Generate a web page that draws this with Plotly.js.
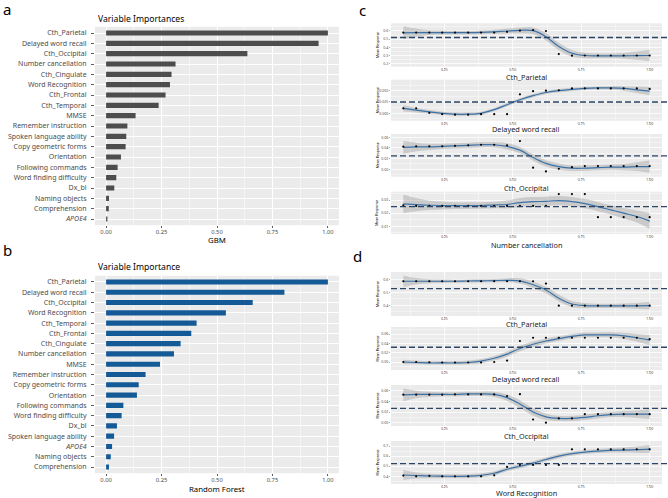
<!DOCTYPE html>
<html>
<head>
<meta charset="utf-8">
<script src="https://cdn.plot.ly/plotly-3.0.1.min.js"></script>
<style>
  html, body { margin: 0; padding: 0; background: #fff; }
  #fig { width: 668px; height: 498px; }
</style>
</head>
<body>
<div id="fig"></div>
<script>
// ---- panel a: GBM variable importance ----
var gbmVars = ['Cth_Parietal', 'Delayed word recall', 'Cth_Occipital', 'Number cancellation',
  'Cth_Cingulate', 'Word Recognition', 'Cth_Frontal', 'Cth_Temporal', 'MMSE',
  'Remember instruction', 'Spoken language ability', 'Copy geometric forms', 'Orientation',
  'Following commands', 'Word finding difficulty', 'Dx_bl', 'Naming objects', 'Comprehension',
  '<i>APOE4</i>'];
var gbmVals = [1.00, 0.958, 0.637, 0.313, 0.295, 0.288, 0.268, 0.237, 0.133, 0.096, 0.091,
  0.088, 0.067, 0.052, 0.046, 0.037, 0.013, 0.012, 0.006];

// ---- panel b: random forest variable importance ----
var rfVars = ['Cth_Parietal', 'Delayed word recall', 'Cth_Occipital', 'Word Recognition',
  'Cth_Temporal', 'Cth_Frontal', 'Cth_Cingulate', 'Number cancellation', 'MMSE',
  'Remember instruction', 'Copy geometric forms', 'Orientation', 'Following commands',
  'Word finding difficulty', 'Dx_bl', 'Spoken language ability', '<i>APOE4</i>',
  'Naming objects', 'Comprehension'];
var rfVals = [1.00, 0.804, 0.661, 0.540, 0.408, 0.384, 0.336, 0.306, 0.243, 0.178, 0.147,
  0.139, 0.078, 0.070, 0.049, 0.036, 0.027, 0.021, 0.013];

// ---- panels c, d: partial dependence (points, loess fit, band half-width, mean line) ----
var pdX = [0.100, 0.147, 0.195, 0.242, 0.289, 0.337, 0.384, 0.432, 0.479, 0.526,
  0.574, 0.621, 0.668, 0.716, 0.763, 0.811, 0.858, 0.905, 0.953, 1.000];

var cParPts = [0.58, 0.58, 0.58, 0.58, 0.58, 0.58, 0.58, 0.58, 0.59, 0.605, 0.612, 0.60, 0.318, 0.298, 0.30, 0.30, 0.30, 0.30, 0.30, 0.30];
var cParFit = [0.578, 0.579, 0.58, 0.58, 0.58, 0.58, 0.583, 0.59, 0.60, 0.608, 0.604, 0.53, 0.41, 0.327, 0.30, 0.295, 0.295, 0.296, 0.298, 0.30];
var cParSe = [0.08, 0.05, 0.03, 0.025, 0.022, 0.022, 0.022, 0.025, 0.03, 0.035, 0.04, 0.045, 0.045, 0.04, 0.035, 0.03, 0.03, 0.035, 0.05, 0.07];
var cParRef = 0.52;

var cDwrPts = [0.011, 0.011, 0.001, -0.002, -0.003, -0.003, -0.002, -0.002, -0.002, 0.042, 0.049, 0.050, 0.051, 0.055, 0.055, 0.055, 0.055, 0.055, 0.055, 0.054];
var cDwrFit = [0.011, 0.007, 0.003, 0.000, -0.002, -0.002, 0.000, 0.008, 0.019, 0.030, 0.039, 0.046, 0.050, 0.053, 0.055, 0.056, 0.056, 0.055, 0.052, 0.049];
var cDwrSe = [0.007, 0.005, 0.004, 0.0035, 0.0035, 0.0035, 0.0035, 0.0035, 0.0035, 0.0035, 0.0035, 0.0035, 0.0035, 0.0035, 0.0035, 0.0035, 0.004, 0.005, 0.007, 0.009];
var cDwrRef = 0.025;

var cOccPts = [0.0425, 0.043, 0.043, 0.043, 0.044, 0.045, 0.046, 0.046, 0.045, 0.053, 0.003, -0.004, 0.001, 0.004, 0.006, 0.006, 0.006, 0.006, 0.006, 0.006];
var cOccFit = [0.041, 0.042, 0.042, 0.043, 0.044, 0.045, 0.046, 0.046, 0.043, 0.036, 0.022, 0.011, 0.005, 0.002, 0.002, 0.003, 0.004, 0.004, 0.005, 0.005];
var cOccSe = [0.012, 0.008, 0.006, 0.005, 0.005, 0.005, 0.005, 0.005, 0.006, 0.006, 0.006, 0.006, 0.006, 0.005, 0.005, 0.005, 0.005, 0.006, 0.008, 0.012];
var cOccRef = 0.025;

var cNcPts = [0.026, 0.0255, 0.0255, 0.0255, 0.0255, 0.0255, 0.0255, 0.0255, 0.0255, 0.0255, 0.0255, 0.0255, 0.0345, 0.0345, 0.0345, 0.017, 0.017, 0.017, 0.017, 0.017];
var cNcFit = [0.027, 0.0265, 0.026, 0.0258, 0.0257, 0.0257, 0.0258, 0.0262, 0.0266, 0.028, 0.0287, 0.029, 0.0295, 0.0287, 0.0272, 0.025, 0.0225, 0.020, 0.0175, 0.014];
var cNcSe = [0.007, 0.005, 0.0035, 0.003, 0.0025, 0.0025, 0.0025, 0.0025, 0.003, 0.0035, 0.0035, 0.0035, 0.0035, 0.0035, 0.0035, 0.0035, 0.0035, 0.004, 0.0045, 0.006];
var cNcRef = 0.0249;

var dParPts = [0.585, 0.585, 0.585, 0.585, 0.585, 0.585, 0.585, 0.585, 0.585, 0.585, 0.585, 0.567, 0.397, 0.397, 0.397, 0.397, 0.397, 0.397, 0.397, 0.397];
var dParFit = [0.585, 0.585, 0.585, 0.585, 0.585, 0.587, 0.588, 0.59, 0.592, 0.588, 0.558, 0.518, 0.455, 0.41, 0.398, 0.396, 0.396, 0.396, 0.396, 0.397];
var dParSe = [0.045, 0.025, 0.015, 0.013, 0.012, 0.012, 0.012, 0.013, 0.015, 0.02, 0.024, 0.026, 0.026, 0.024, 0.02, 0.017, 0.016, 0.018, 0.022, 0.03];
var dParRef = 0.528;

var dDwrPts = [0.000, 0.000, -0.0005, -0.001, -0.001, -0.001, -0.001, 0.000, 0.003, 0.045, 0.052, 0.052, 0.052, 0.052, 0.052, 0.052, 0.052, 0.052, 0.052, 0.049];
var dDwrFit = [0.000, -0.001, -0.002, -0.002, -0.002, -0.001, 0.002, 0.008, 0.017, 0.029, 0.038, 0.045, 0.050, 0.055, 0.058, 0.058, 0.058, 0.056, 0.052, 0.047];
var dDwrSe = [0.005, 0.004, 0.0035, 0.0035, 0.0035, 0.004, 0.0045, 0.005, 0.0055, 0.0057, 0.0057, 0.0055, 0.005, 0.005, 0.005, 0.005, 0.0055, 0.0065, 0.008, 0.011];
var dDwrRef = 0.0316;

var dOccPts = [0.0525, 0.0525, 0.0525, 0.0525, 0.053, 0.053, 0.053, 0.053, 0.050, 0.0535, 0.006, 0.000, 0.008, 0.008, 0.016, 0.016, 0.016, 0.016, 0.016, 0.016];
var dOccFit = [0.052, 0.053, 0.053, 0.053, 0.053, 0.054, 0.054, 0.053, 0.047, 0.035, 0.020, 0.011, 0.008, 0.008, 0.010, 0.013, 0.015, 0.016, 0.016, 0.016];
var dOccSe = [0.012, 0.007, 0.005, 0.004, 0.004, 0.004, 0.004, 0.005, 0.006, 0.007, 0.007, 0.006, 0.005, 0.005, 0.005, 0.005, 0.005, 0.006, 0.007, 0.009];
var dOccRef = 0.027;

var dWrPts = [0.407, 0.40, 0.405, 0.40, 0.40, 0.40, 0.40, 0.41, 0.493, 0.513, 0.513, 0.513, 0.513, 0.667, 0.667, 0.667, 0.667, 0.667, 0.667, 0.667];
var dWrFit = [0.413, 0.408, 0.403, 0.401, 0.400, 0.401, 0.41, 0.43, 0.47, 0.50, 0.53, 0.566, 0.60, 0.624, 0.64, 0.65, 0.657, 0.66, 0.664, 0.67];
var dWrSe = [0.05, 0.03, 0.022, 0.02, 0.02, 0.02, 0.02, 0.02, 0.02, 0.02, 0.02, 0.02, 0.02, 0.02, 0.02, 0.02, 0.022, 0.025, 0.03, 0.04];
var dWrRef = 0.526;

// ---- layout helpers (pixel -> paper) ----
var W = 668, H = 498;
function fx(p) { return p / W; }
function fy(p) { return 1 - p / H; }

var FONT = 'Noto Sans, Open Sans, sans-serif';
var data = [];
var layout = {
  width: W, height: H,
  margin: { l: 0, r: 0, t: 0, b: 0 },
  showlegend: false,
  paper_bgcolor: '#ffffff',
  plot_bgcolor: '#ebebeb',
  font: { family: FONT, color: '#4d4d4d' },
  annotations: [],
  shapes: []
};
var axisN = 0;

function note(text, x, y, size, opts) {
  var a = { text: text, x: fx(x), y: fy(y), xref: 'paper', yref: 'paper', showarrow: false,
    xanchor: 'center', yanchor: 'middle', font: { size: size, color: '#000', family: FONT } };
  for (var k in (opts || {})) a[k] = opts[k];
  layout.annotations.push(a);
}

function barPanel(vars, vals, color, top, bottom, title, titleY, xtitle, xtitleY) {
  axisN++;
  var xa = axisN === 1 ? 'x' : 'x' + axisN, ya = axisN === 1 ? 'y' : 'y' + axisN;
  data.push({
    type: 'bar', orientation: 'h', x: vals, y: vars, xaxis: xa, yaxis: ya,
    width: 0.5, marker: { color: color }, hoverinfo: 'x+y'
  });
  layout['xaxis' + (axisN === 1 ? '' : axisN)] = {
    domain: [fx(95), fx(339)], anchor: ya, range: [-0.05, 1.05],
    tickvals: [0, 0.25, 0.5, 0.75, 1], ticktext: ['0.00', '0.25', '0.50', '0.75', '1.00'],
    showgrid: true, gridcolor: '#ffffff', gridwidth: 1, zeroline: false,
    minor: { tickvals: [0.125, 0.375, 0.625, 0.875], showgrid: true, gridcolor: '#ffffff', gridwidth: 0.5 },
    ticks: 'outside', ticklen: 2, tickcolor: '#333', tickwidth: 0.8,
    ticklabelstandoff: -1,
    tickfont: { size: 5.8, color: '#4d4d4d' }, showline: false
  };
  layout['yaxis' + (axisN === 1 ? '' : axisN)] = {
    domain: [fy(bottom), fy(top)], anchor: xa, type: 'category',
    categoryorder: 'array', categoryarray: vars, range: [vars.length - 0.4, -0.6],
    showgrid: true, gridcolor: '#ffffff', gridwidth: 1, zeroline: false,
    ticks: 'outside', ticklen: 3, tickcolor: '#333', tickwidth: 0.8,
    ticklabelstandoff: 3,
    tickfont: { size: 7, color: '#4d4d4d' }, showline: false
  };
  note(title, 96, titleY, 8.6, { xanchor: 'left' });
  note(xtitle, 217, xtitleY, 7.8);
}

function pdPanel(p) {
  axisN++;
  var xa = 'x' + axisN, ya = 'y' + axisN;
  var upper = p.fit.map(function (v, i) { return v + p.se[i]; });
  var lower = p.fit.map(function (v, i) { return v - p.se[i]; });
  data.push({ x: pdX, y: upper, xaxis: xa, yaxis: ya, mode: 'lines',
    line: { width: 0, shape: 'spline' }, hoverinfo: 'skip' });
  data.push({ x: pdX, y: lower, xaxis: xa, yaxis: ya, mode: 'lines', fill: 'tonexty',
    fillcolor: 'rgba(153,153,153,0.4)', line: { width: 0, shape: 'spline' }, hoverinfo: 'skip' });
  data.push({ x: pdX, y: p.fit, xaxis: xa, yaxis: ya, mode: 'lines',
    line: { color: '#3b72a8', width: 1.2, shape: 'spline' } });
  data.push({ x: pdX, y: p.pts, xaxis: xa, yaxis: ya, mode: 'markers',
    marker: { color: '#000', size: 2.2 } });
  layout['xaxis' + axisN] = {
    domain: [fx(391), fx(662)], anchor: ya, range: [0.055, 1.045],
    tickvals: [0.25, 0.5, 0.75, 1], ticktext: ['0.25', '0.50', '0.75', '1.00'],
    showgrid: true, gridcolor: '#ffffff', gridwidth: 0.8, zeroline: false,
    minor: { tickvals: [0.125, 0.375, 0.625, 0.875], showgrid: true, gridcolor: '#ffffff', gridwidth: 0.4 },
    ticks: 'outside', ticklen: 1, tickcolor: '#555', tickwidth: 0.5,
    ticklabelstandoff: -2,
    tickfont: { size: 3.5, color: '#4d4d4d' }
  };
  layout['yaxis' + axisN] = {
    domain: [fy(p.bottom), fy(p.top)], anchor: xa, range: p.range,
    tick0: 0, dtick: p.dtick, tickformat: p.fmt,
    showgrid: true, gridcolor: '#ffffff', gridwidth: 0.8, zeroline: false,
    minor: { tick0: 0, dtick: p.dtick / 2, showgrid: true, gridcolor: '#ffffff', gridwidth: 0.4 },
    ticks: 'outside', ticklen: 1, tickcolor: '#555', tickwidth: 0.5,
    tickfont: { size: 3.5, color: '#4d4d4d' }
  };
  layout.shapes.push({ type: 'line', xref: 'paper', yref: ya, x0: fx(391), x1: 1,
    y0: p.ref, y1: p.ref, line: { color: '#2c4466', width: 1.3, dash: '6px,3px' } });
  note(p.name, 526, p.label, 7.3, { font: { size: 7.3, color: '#1a1a1a', family: FONT } });
  note('Mean Response', 377, (p.top + p.bottom) / 2, 3.5,
    { textangle: -90, font: { size: 3.5, color: '#000', family: FONT } });
}

barPanel(gbmVars, gbmVals, '#4d4d4d', 26.8, 225.2, 'Variable Importances', 19, 'GBM', 240);
barPanel(rfVars, rfVals, '#135a96', 275.8, 473.2, 'Variable Importance', 267, 'Random Forest', 488.5);

var pdPanels = [
  { name: 'Cth_Parietal', pts: cParPts, fit: cParFit, se: cParSe, ref: cParRef,
    top: 23.3, bottom: 66.7, range: [0.163, 0.694], dtick: 0.1, fmt: '.1f', label: 76.5 },
  { name: 'Delayed word recall', pts: cDwrPts, fit: cDwrFit, se: cDwrSe, ref: cDwrRef,
    top: 79.7, bottom: 120.7, range: [-0.0164, 0.0743], dtick: 0.025, fmt: '.3f', label: 128.5 },
  { name: 'Cth_Occipital', pts: cOccPts, fit: cOccFit, se: cOccSe, ref: cOccRef,
    top: 134, bottom: 176.7, range: [-0.0139, 0.0662], dtick: 0.02, fmt: '.2f', label: 188 },
  { name: 'Number cancellation', pts: cNcPts, fit: cNcFit, se: cNcSe, ref: cNcRef,
    top: 191.7, bottom: 234, range: [0.0042, 0.0363], dtick: 0.01, fmt: '.2f', label: 245 },
  { name: 'Cth_Parietal', pts: dParPts, fit: dParFit, se: dParSe, ref: dParRef,
    top: 272, bottom: 316, range: [0.318, 0.656], dtick: 0.1, fmt: '.1f', label: 323.5 },
  { name: 'Delayed word recall', pts: dDwrPts, fit: dDwrFit, se: dDwrSe, ref: dDwrRef,
    top: 327, bottom: 370, range: [-0.0171, 0.075], dtick: 0.02, fmt: '.2f', label: 379 },
  { name: 'Cth_Occipital', pts: dOccPts, fit: dOccFit, se: dOccSe, ref: dOccRef,
    top: 385, bottom: 426, range: [-0.0062, 0.0707], dtick: 0.02, fmt: '.2f', label: 436 },
  { name: 'Word Recognition', pts: dWrPts, fit: dWrFit, se: dWrSe, ref: dWrRef,
    top: 441, bottom: 484, range: [0.324, 0.7495], dtick: 0.1, fmt: '.1f', label: 492.5 }
];
pdPanels.forEach(pdPanel);

// panel letters
note('a', 7, 9, 15);
note('b', 7, 250, 15);
note('c', 362, 10, 15);
note('d', 358, 256, 15);

Plotly.newPlot('fig', data, layout, { staticPlot: true });
</script>
</body>
</html>
